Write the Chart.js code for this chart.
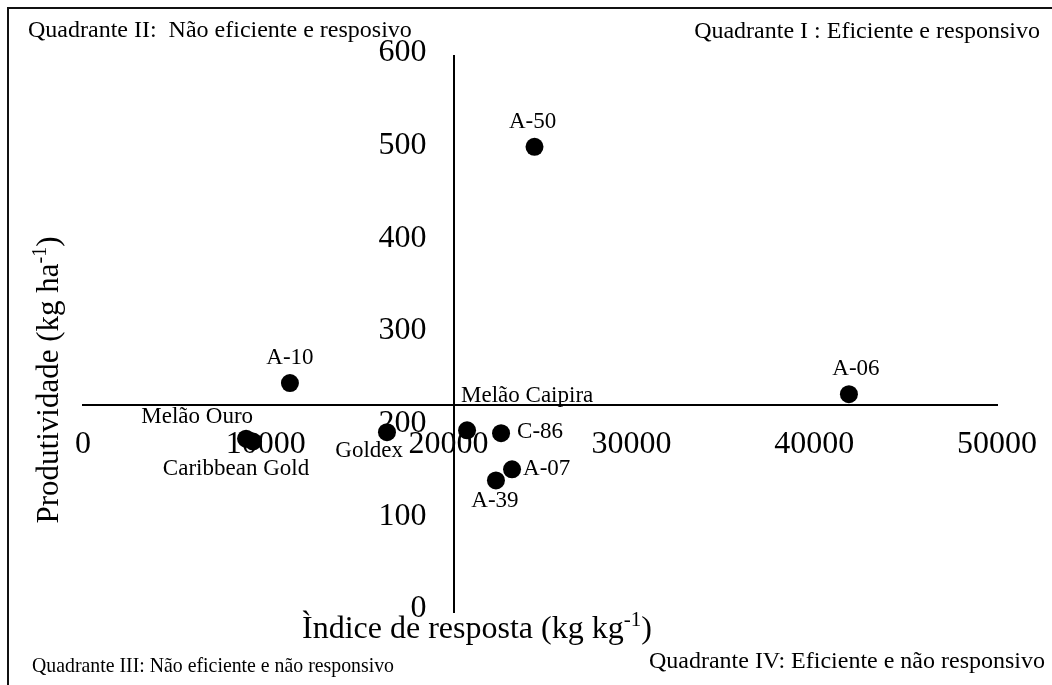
<!DOCTYPE html>
<html>
<head>
<meta charset="utf-8">
<script src="https://cdn.jsdelivr.net/npm/chart.js@4.4.1/dist/chart.umd.min.js"></script>
<style>
  html, body { margin: 0; padding: 0; background: #fff; }
</style>
</head>
<body>
<canvas id="chart" width="1052" height="685"></canvas>
<script>
// 品种名称
const cultivars = ['A-50', 'A-10', 'A-06', 'Melão Ouro', 'Caribbean Gold', 'Goldex', 'Melão Caipira', 'C-86', 'A-07', 'A-39'];
// 响应指数 (kg kg-1)
const responseIndex = [24700, 11320, 41900, 8920, 9300, 16630, 21010, 22870, 23470, 22590];
// 产量 (kg ha-1)
const productivity = [502, 247, 235, 187, 184, 194, 196, 193, 154, 142];
// 刻度
const xTicks = [0, 10000, 20000, 30000, 40000, 50000];
const yTicks = [0, 100, 200, 300, 400, 500, 600];
// 象限文字
const quadrantTexts = [
  'Quadrante II:  Não eficiente e resposivo',
  'Quadrante I : Eficiente e responsivo',
  'Quadrante III: Não eficiente e não responsivo',
  'Quadrante IV: Eficiente e não responsivo'
];
const xTitle = ['Ìndice de resposta (kg kg', '-1', ')'];
const yTitle = ['Produtividade (kg ha', '-1', ')'];

const FONT = '"Liberation Serif", "Times New Roman", serif';

// 坐标轴交点 = 平均值
const xCross = responseIndex.reduce((a, b) => a + b, 0) / responseIndex.length;
const yCross = productivity.reduce((a, b) => a + b, 0) / productivity.length;

// 标签偏移 [dx, dy, 对齐]
const labelOffsets = {
  'A-50': [-2, -25, 'center'],
  'A-10': [0, -25, 'center'],
  'A-06': [7, -25, 'center'],
  'Melão Ouro': [7, -22, 'right'],
  'Caribbean Gold': [-17, 27, 'center'],
  'Goldex': [16, 19, 'right'],
  'Melão Caipira': [-6, -34, 'left'],
  'C-86': [16, -1, 'left'],
  'A-07': [11, 0, 'left'],
  'A-39': [-1, 21, 'center']
};

// 画带上标的文字
function drawSupText(ctx, parts, x, y, size, align) {
  const small = Math.round(size * 0.65);
  const widths = parts.map((p, i) => {
    ctx.font = (i === 1 ? small : size) + 'px ' + FONT;
    return ctx.measureText(p).width;
  });
  const total = widths.reduce((a, b) => a + b, 0);
  let cx = align === 'center' ? x - total / 2 : x;
  ctx.textAlign = 'left';
  ctx.textBaseline = 'alphabetic';
  parts.forEach((p, i) => {
    ctx.font = (i === 1 ? small : size) + 'px ' + FONT;
    ctx.fillText(p, cx, i === 1 ? y - size * 0.38 : y);
    cx += widths[i];
  });
}

const textPlugin = {
  id: 'textPlugin',
  beforeDraw(chart) {
    const ctx = chart.ctx;
    ctx.save();
    ctx.fillStyle = '#fff';
    ctx.fillRect(0, 0, chart.width, chart.height);
    ctx.strokeStyle = '#111';
    ctx.lineWidth = 2;
    ctx.beginPath();
    ctx.moveTo(8, chart.height);
    ctx.lineTo(8, 8);
    ctx.lineTo(chart.width, 8);
    ctx.stroke();
    ctx.restore();
  },
  beforeDatasetsDraw(chart) {
    // y轴刻度文字 (放在轴线左边)
    const ctx = chart.ctx;
    const ys = chart.scales.y;
    const axisX = chart.scales.x.getPixelForValue(xCross);
    ctx.save();
    ctx.fillStyle = '#000';
    ctx.font = '32px ' + FONT;
    ctx.textAlign = 'right';
    ctx.textBaseline = 'middle';
    ys.ticks.forEach(t => {
      ctx.fillText(String(t.value), axisX - 27, ys.getPixelForValue(t.value) - 3);
    });
    ctx.restore();
  },
  afterDraw(chart) {
    const ctx = chart.ctx;
    ctx.save();
    ctx.fillStyle = '#000';

    // 点标签
    const meta = chart.getDatasetMeta(0);
    ctx.font = '23px ' + FONT;
    ctx.textBaseline = 'middle';
    meta.data.forEach((pt, i) => {
      const off = labelOffsets[cultivars[i]] || [0, -25, 'center'];
      ctx.textAlign = off[2];
      ctx.fillText(cultivars[i], pt.x + off[0], pt.y + off[1]);
    });

    // 象限文字
    ctx.font = '24px ' + FONT;
    ctx.textBaseline = 'alphabetic';
    ctx.textAlign = 'left';
    ctx.fillText(quadrantTexts[0], 28, 37);
    ctx.font = '21px ' + FONT;
    ctx.fillText(quadrantTexts[2], 32, 672, 362);
    ctx.font = '24px ' + FONT;
    ctx.textAlign = 'right';
    ctx.fillText(quadrantTexts[1], 1040, 38);
    ctx.fillText(quadrantTexts[3], 1045, 668);

    // 轴标题
    drawSupText(ctx, xTitle, 302, 638, 32, 'left');
    ctx.translate(58, 380);
    ctx.rotate(-Math.PI / 2);
    drawSupText(ctx, yTitle, 0, 0, 31, 'center');
    ctx.restore();
  }
};

const ctx = document.getElementById('chart').getContext('2d');
const chart = new Chart(ctx, {
  type: 'scatter',
  data: {
    datasets: [{
      data: responseIndex.map((v, i) => ({ x: v, y: productivity[i] })),
      backgroundColor: '#000',
      borderWidth: 0,
      pointRadius: 9,
      pointHoverRadius: 9
    }]
  },
  options: {
    responsive: false,
    animation: false,
    devicePixelRatio: 1,
    layout: { padding: { left: 83, right: 55, top: 56, bottom: 73 } },
    plugins: { legend: { display: false }, tooltip: { enabled: false } },
    scales: {
      x: {
        type: 'linear',
        min: 0,
        max: 50000,
        position: { y: yCross },
        grid: { display: false, drawTicks: false },
        border: { display: true, color: '#000', width: 2 },
        afterBuildTicks: (scale) => { scale.ticks = xTicks.map(v => ({ value: v })); },
        // 标签不挤压绘图区
        afterFit: (scale) => { scale.paddingLeft = 0; scale.paddingRight = 0; },
        ticks: {
          color: '#000',
          font: { family: FONT, size: 32 },
          padding: 20,
          maxRotation: 0,
          autoSkip: false,
          callback: (v) => String(v)
        }
      },
      y: {
        type: 'linear',
        min: 0,
        max: 600,
        position: { x: xCross },
        grid: { display: false, drawTicks: false },
        border: { display: true, color: '#000', width: 2 },
        afterBuildTicks: (scale) => { scale.ticks = yTicks.map(v => ({ value: v })); },
        ticks: { display: false }
      }
    }
  },
  plugins: [textPlugin]
});
</script>
</body>
</html>
